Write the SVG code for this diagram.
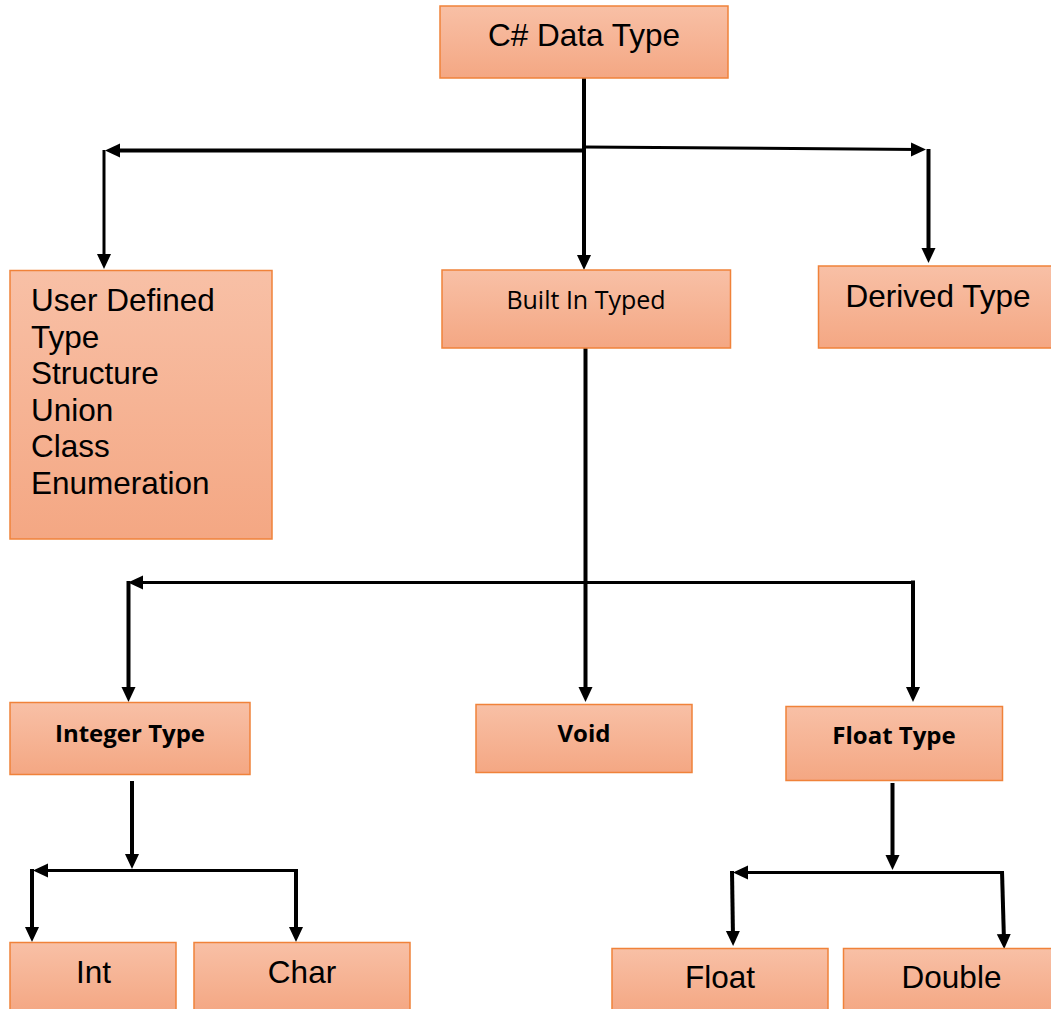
<svg xmlns="http://www.w3.org/2000/svg" width="1051" height="1009" viewBox="0 0 1051 1009">
  <defs>
    <linearGradient id="fillGrad" x1="0" y1="0" x2="0" y2="1">
      <stop offset="0" stop-color="#F8C0A6"/>
      <stop offset="1" stop-color="#F4A783"/>
    </linearGradient>
    <marker id="arrow" markerUnits="userSpaceOnUse" markerWidth="16" markerHeight="15" refX="7" refY="7" orient="auto">
      <path d="M0,0 L15,7 L0,14 z" fill="#000"/>
    </marker>
  </defs>
  <style>
    .box { fill: url(#fillGrad); stroke: #F0823A; stroke-width: 1.5; }
    .arial { font-family: "Liberation Sans", Arial, sans-serif; font-size: 31.5px; fill: #000; }
    .cal { font-family: "Open Sans", "Noto Sans", sans-serif; font-size: 25px; fill: #000; }
    .calb { font-family: "Open Sans", "Noto Sans", sans-serif; font-size: 24px; font-weight: 700; fill: #000; }
    .c { text-anchor: middle; }
    .conn path { fill: none; stroke: #000; stroke-width: 4; }
    .conn path.arr { marker-end: url(#arrow); }
    .conn path.thin { stroke-width: 3; }
  </style>

  <g id="connectors" class="conn">
    <path class="arr" d="M584,78 V262"/>
    <path class="arr" d="M584,150.5 H113"/>
    <path class="arr thin" d="M104,150 V261"/>
    <path class="arr thin" d="M584,147 L918,149.5"/>
    <path class="arr" d="M928.5,149 V255"/>
    <path class="arr" d="M585.5,348 V694"/>
    <path class="arr thin" d="M915,582.5 H136"/>
    <path class="arr" d="M128.5,581 V694"/>
    <path class="arr" d="M913,580.5 V694"/>
    <path class="arr" d="M132,781 V861"/>
    <path class="arr thin" d="M297.5,870.5 H41"/>
    <path class="arr" d="M32,869 V934"/>
    <path class="arr" d="M296,869 V934"/>
    <path class="arr" d="M892.5,783 V862"/>
    <path class="arr thin" d="M1003,872.5 H741"/>
    <path class="arr" d="M732,871 L733,938"/>
    <path class="arr" d="M1002,871 L1004,941"/>
  </g>

  <g id="node-csharp">
    <rect class="box" x="440" y="6" width="288" height="72"/>
    <text class="arial c" x="584" y="46">C# Data Type</text>
  </g>
  <g id="node-userdefined">
    <rect class="box" x="10" y="270.5" width="262" height="268.5"/>
    <text class="arial" x="31" y="311">User Defined</text>
    <text class="arial" x="31" y="347.6">Type</text>
    <text class="arial" x="31" y="384.2">Structure</text>
    <text class="arial" x="31" y="420.8">Union</text>
    <text class="arial" x="31" y="457.4">Class</text>
    <text class="arial" x="31" y="494">Enumeration</text>
  </g>
  <g id="node-builtin">
    <rect class="box" x="442" y="270" width="288.5" height="78"/>
    <text class="cal c" x="586" y="309">Built In Typed</text>
  </g>
  <g id="node-derived">
    <rect class="box" x="818.5" y="266" width="234" height="82"/>
    <text class="arial c" x="938" y="307">Derived Type</text>
  </g>
  <g id="node-integer">
    <rect class="box" x="10" y="702.5" width="240" height="72"/>
    <text class="calb c" x="130" y="742">Integer Type</text>
  </g>
  <g id="node-void">
    <rect class="box" x="476" y="704.5" width="216" height="68"/>
    <text class="calb c" x="584" y="742">Void</text>
  </g>
  <g id="node-floattype">
    <rect class="box" x="786" y="706.5" width="216.5" height="74"/>
    <text class="calb c" x="894" y="744">Float Type</text>
  </g>
  <g id="node-int">
    <rect class="box" x="10" y="942.5" width="166" height="70"/>
    <text class="arial c" x="93.5" y="983">Int</text>
  </g>
  <g id="node-char">
    <rect class="box" x="194" y="942.5" width="216" height="70"/>
    <text class="arial c" x="302" y="983">Char</text>
  </g>
  <g id="node-float">
    <rect class="box" x="612" y="948.5" width="216" height="64"/>
    <text class="arial c" x="720" y="988">Float</text>
  </g>
  <g id="node-double">
    <rect class="box" x="843.5" y="948.5" width="210" height="64"/>
    <text class="arial c" x="951.5" y="988">Double</text>
  </g>
</svg>
